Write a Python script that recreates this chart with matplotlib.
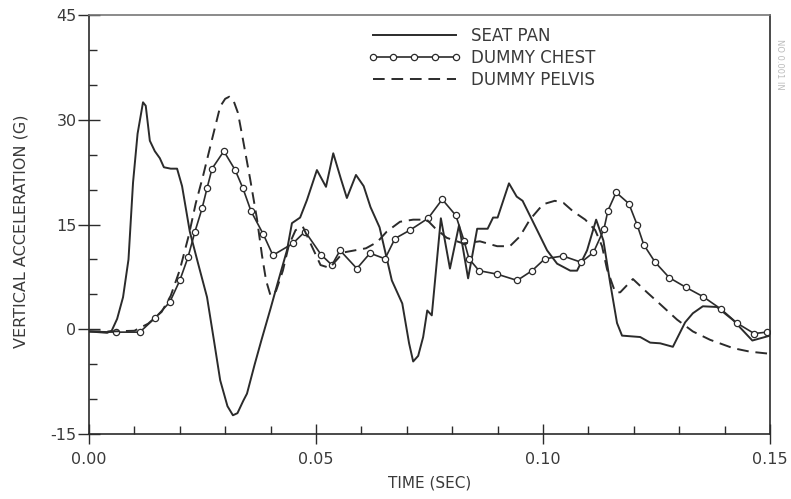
import matplotlib.pyplot as plt
from matplotlib.ticker import MultipleLocator, FixedLocator

plt.rcParams['axes.unicode_minus'] = False

# seat pan (solid)
seat_t = [0.000, 0.002, 0.004, 0.0050, 0.0062, 0.0075, 0.0087, 0.0097, 0.0107, 0.0119,
          0.0125, 0.0134, 0.0145, 0.0156, 0.0165, 0.0180, 0.0194, 0.0205, 0.0222, 0.0240,
          0.0260, 0.0275, 0.0289, 0.0305, 0.0317, 0.0327, 0.0340, 0.0348, 0.0365, 0.0380,
          0.0400, 0.0415, 0.0436, 0.0447, 0.0465, 0.0480, 0.0502, 0.0522, 0.0538, 0.0555,
          0.0568, 0.0588, 0.0605, 0.0620, 0.0640, 0.0667, 0.0690, 0.0705, 0.0714, 0.0725,
          0.0736, 0.0745, 0.0755, 0.0775, 0.0795, 0.0815, 0.0835, 0.0855, 0.0878, 0.0890,
          0.0900, 0.0925, 0.0942, 0.0955, 0.0987, 0.1009, 0.1031, 0.1060, 0.1075, 0.1097,
          0.1117, 0.1133, 0.1148, 0.1163, 0.1174, 0.1214, 0.1236, 0.1258, 0.1286, 0.1313,
          0.1330, 0.1352, 0.1383, 0.1419, 0.1461, 0.1500]
seat_g = [-0.3, -0.4, -0.5, -0.2, 1.5, 4.6, 10.0, 21.0, 28.0, 32.5,
          32.0, 27.0, 25.5, 24.5, 23.2, 23.0, 23.0, 20.5, 14.0, 9.5,
          4.6, -1.5, -7.3, -11.0, -12.3, -12.0, -10.2, -9.2, -5.0, -1.5,
          3.0, 6.5, 11.3, 15.2, 16.0, 18.5, 22.8, 20.4, 25.2, 21.5,
          18.8, 22.1, 20.5, 17.5, 14.6, 7.0, 3.7, -2.0, -4.6, -3.8,
          -1.1, 2.7, 2.0, 15.9, 8.7, 14.9, 7.3, 14.4, 14.4, 16.0,
          16.0, 20.9, 19.0, 18.4, 14.2, 11.3, 9.4, 8.4, 8.4, 11.3,
          15.7, 12.7, 6.6, 0.9, -0.9, -1.1, -1.9, -2.0, -2.5, 1.0,
          2.3, 3.3, 3.2, 1.3, -1.6, -0.9]

# dummy chest (line with open circles)
chest_t = [0.000, 0.0059, 0.0112, 0.0145, 0.0178, 0.0200, 0.0218, 0.0233, 0.0249, 0.0260,
           0.0271, 0.0297, 0.0322, 0.0339, 0.0357, 0.0384, 0.0405, 0.0449, 0.0476, 0.0511,
           0.0535, 0.0553, 0.0590, 0.0619, 0.0652, 0.0674, 0.0707, 0.0747, 0.0778, 0.0808,
           0.0826, 0.0837, 0.0859, 0.0899, 0.0943, 0.0976, 0.1004, 0.1044, 0.1084, 0.1111,
           0.1134, 0.1143, 0.1161, 0.1189, 0.1207, 0.1222, 0.1247, 0.1278, 0.1315, 0.1352,
           0.1392, 0.1427, 0.1465, 0.1493]
chest_g = [-0.3, -0.4, -0.4, 1.6, 3.9, 7.0, 10.3, 13.9, 17.3, 20.2,
           23.0, 25.5, 22.8, 20.2, 16.9, 13.6, 10.6, 12.3, 14.0, 10.7,
           9.2, 11.3, 8.7, 10.9, 10.1, 13.0, 14.2, 15.9, 18.6, 16.3,
           12.7, 10.1, 8.4, 7.9, 7.0, 8.4, 10.1, 10.5, 9.6, 11.0,
           14.3, 17.0, 19.6, 18.0, 15.0, 12.1, 9.6, 7.4, 6.0, 4.7,
           2.9, 0.9, -0.6, -0.4]

# dummy pelvis (dashed)
pelvis_t = [0.000, 0.005, 0.010, 0.013, 0.016, 0.018, 0.020, 0.022, 0.0235, 0.0251,
            0.0271, 0.0289, 0.0300, 0.0309, 0.0318, 0.0328, 0.0339, 0.0355, 0.0370, 0.0381,
            0.0390, 0.0400, 0.0412, 0.0427, 0.0440, 0.0455, 0.0471, 0.0490, 0.0510, 0.0530,
            0.0560, 0.0610, 0.0635, 0.0656, 0.0685, 0.0714, 0.0744, 0.0762, 0.0788, 0.0824,
            0.0861, 0.0899, 0.0927, 0.0949, 0.0971, 0.1000, 0.1026, 0.1045, 0.1066, 0.1093,
            0.1115, 0.1130, 0.1141, 0.1159, 0.1170, 0.1198, 0.1229, 0.1258, 0.1295, 0.1330,
            0.1368, 0.1419, 0.1456, 0.1500]
pelvis_g = [-0.3, -0.3, -0.2, 0.8, 2.5, 4.8, 8.5, 13.5, 18.0, 21.9,
            27.2, 31.9, 33.0, 33.3, 32.8, 31.0, 27.2, 21.5, 15.8, 10.6,
            7.0, 4.8, 5.5, 8.4, 12.0, 14.2, 14.7, 12.0, 9.2, 8.8,
            11.0, 11.6, 12.5, 14.0, 15.4, 15.7, 15.7, 14.5, 13.1, 12.3,
            12.6, 11.9, 11.9, 13.3, 15.7, 17.9, 18.4, 18.1, 16.9, 15.7,
            14.2, 11.9, 8.6, 5.3, 5.3, 7.2, 5.3, 3.6, 1.4, -0.3,
            -1.5, -2.7, -3.2, -3.5]

ink = '#2b2b2b'
txt = '#3a3a3a'

fig = plt.figure(figsize=(7.91, 4.99), dpi=100)
ax = fig.add_axes([0.1125, 0.130, 0.861, 0.840])

ax.plot(seat_t, seat_g, color=ink, lw=1.4, label='SEAT PAN')
ax.plot(chest_t, chest_g, color=ink, lw=1.2, marker='o', ms=4.5, mfc='white',
        mec=ink, mew=0.9, markevery=slice(1, None), label='DUMMY CHEST')
ax.plot(pelvis_t, pelvis_g, color=ink, lw=1.4, dashes=(6, 3.5), label='DUMMY PELVIS')

ax.set_xlim(0, 0.15)
ax.set_ylim(-15, 45)

ax.xaxis.set_major_locator(FixedLocator([0.0, 0.05, 0.10, 0.15]))
ax.xaxis.set_minor_locator(MultipleLocator(0.01))
ax.yaxis.set_major_locator(MultipleLocator(15))
ax.yaxis.set_minor_locator(MultipleLocator(5))
ax.set_xticklabels(['0.00', '0.05', '0.10', '0.15'])

ax.tick_params(which='major', direction='inout', length=14, width=1.0, color=ink,
               labelsize=11.5, labelcolor=txt, pad=6)
ax.tick_params(which='minor', direction='in', length=6, width=1.0, color=ink)
ax.tick_params(axis='y', which='major', length=16, pad=1)

for s in ax.spines.values():
    s.set_color(ink)
    s.set_linewidth(1.2)
ax.spines['top'].set_color('#777777')

ax.set_xlabel('TIME (SEC)', fontsize=11, color=txt, labelpad=6)
ax.set_ylabel('VERTICAL ACCELERATION (G)', fontsize=11.5, color=txt)
ax.yaxis.set_label_coords(-0.089, 0.485)

leg = ax.legend(loc='upper left', bbox_to_anchor=(0.392, 1.0), frameon=False,
                numpoints=5, handlelength=5.6, handletextpad=0.6, labelspacing=0.25,
                fontsize=12, borderaxespad=0.3)
for t in leg.get_texts():
    t.set_color(txt)

fig.text(0.985, 0.87, 'NO 0.001 IN', rotation=270, fontsize=6, color='#bbbbbb',
         ha='center', va='center')

fig.savefig('out.png', dpi=100)
